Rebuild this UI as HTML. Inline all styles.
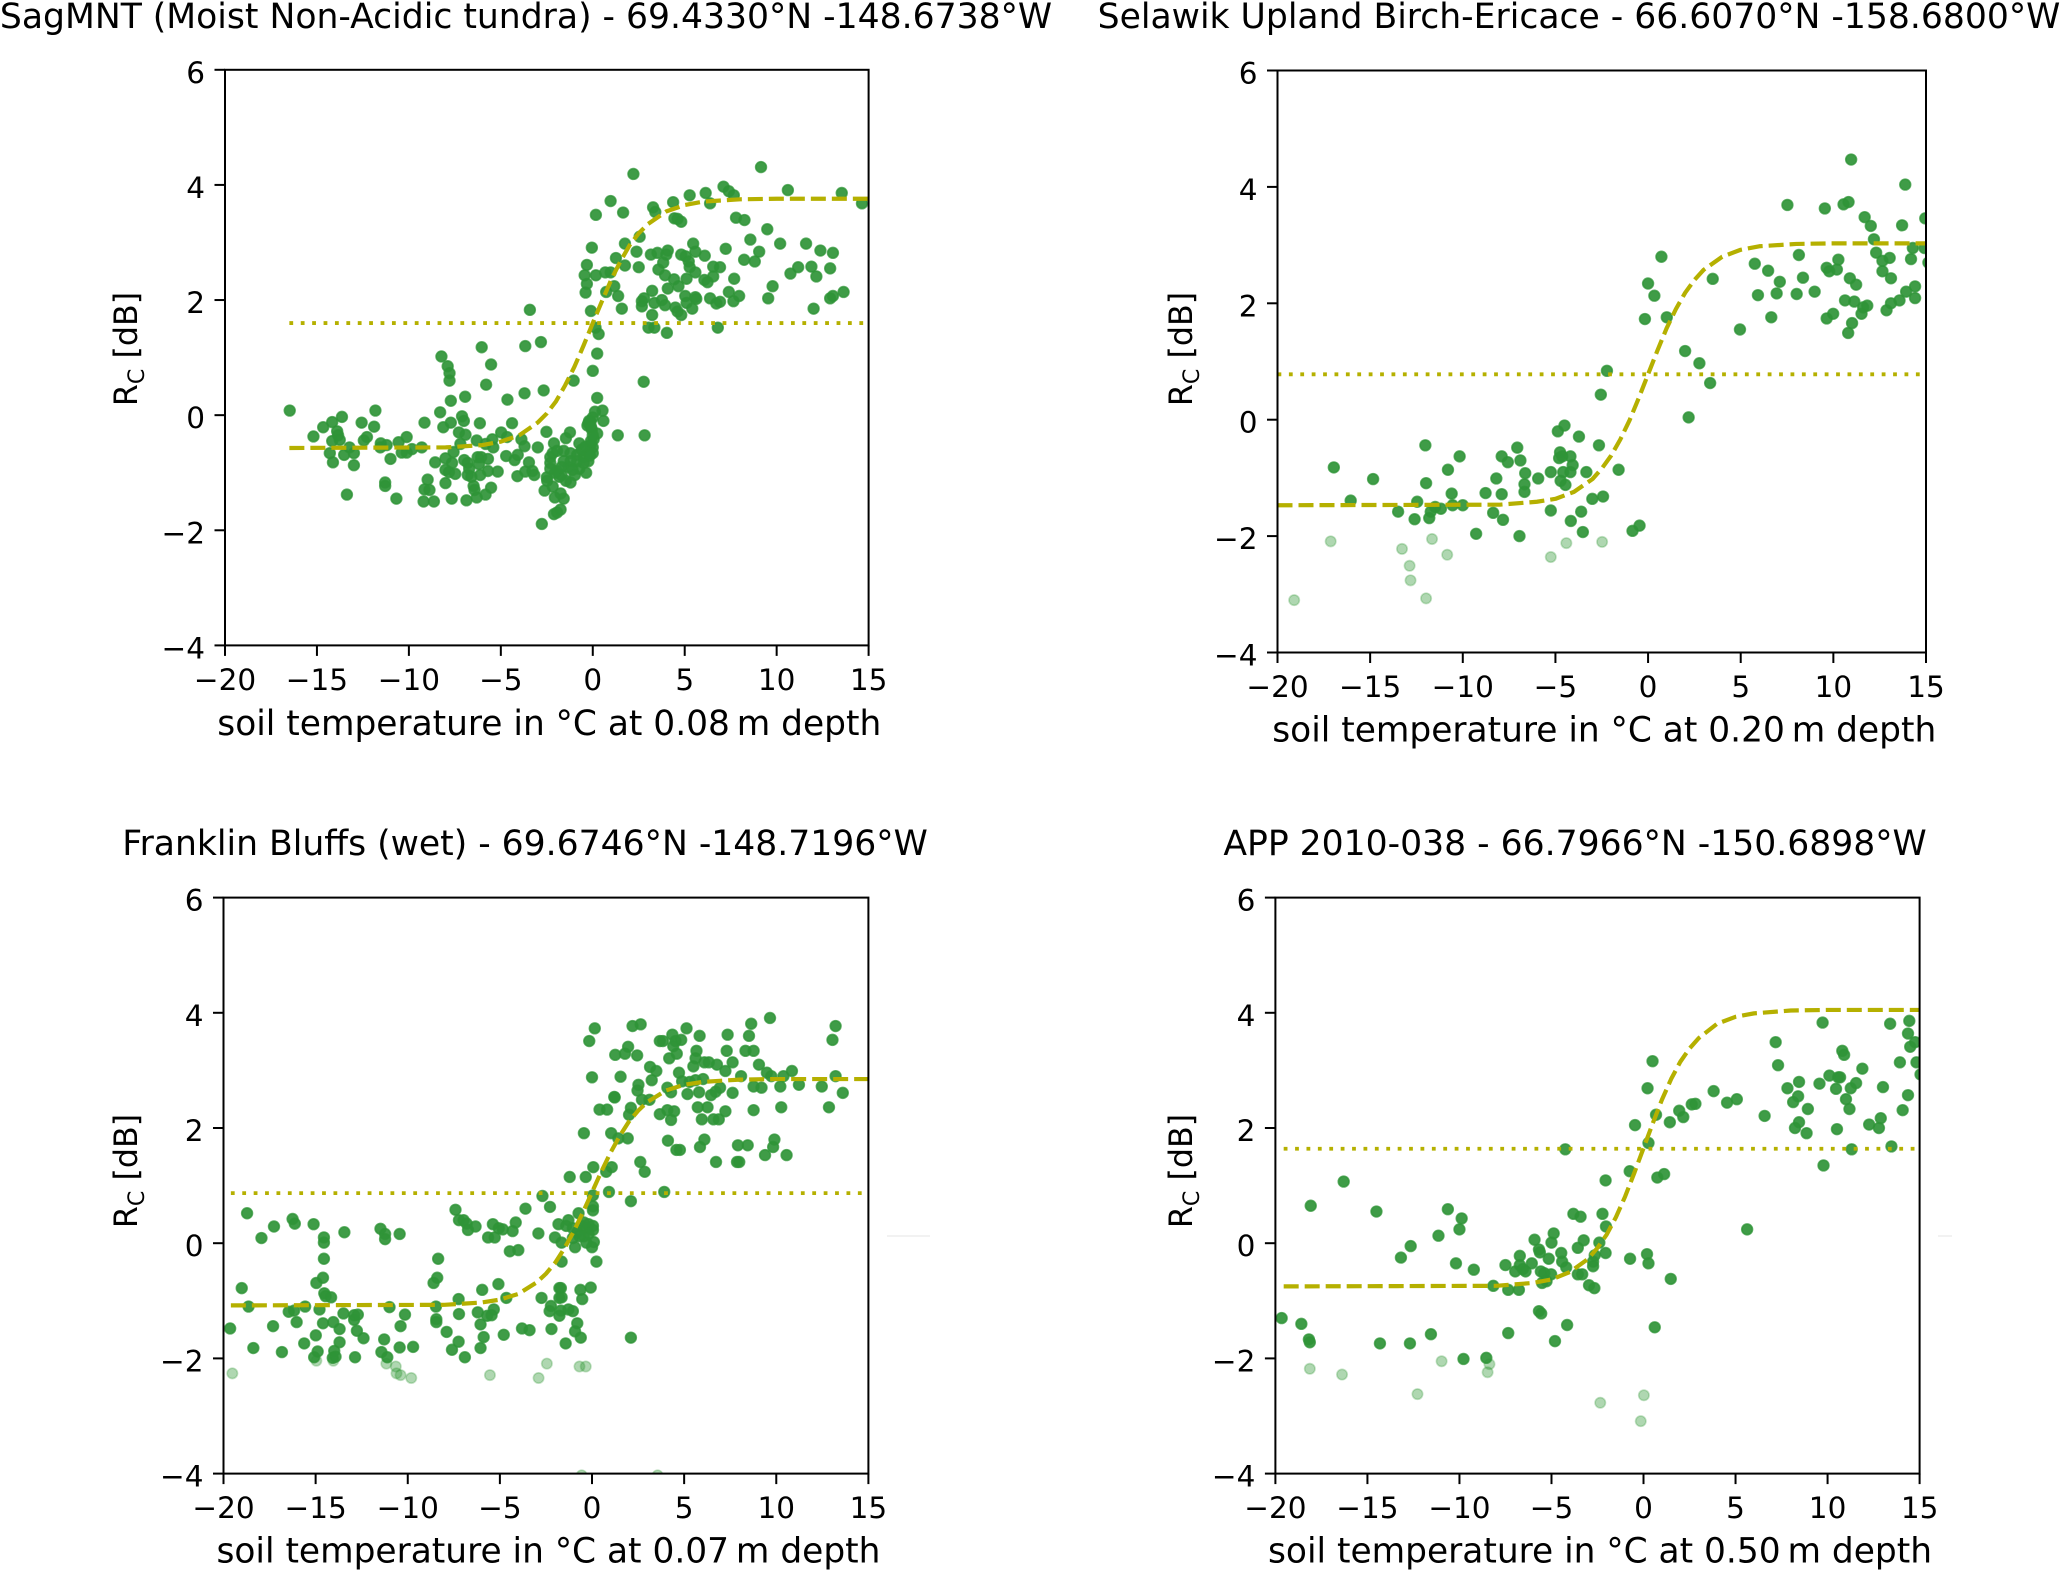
<!DOCTYPE html>
<html lang="en">
<head>
<meta charset="utf-8">
<title>Rc versus soil temperature</title>
<style>
html,body{margin:0;padding:0;background:#fff;width:2067px;height:1572px;overflow:hidden}
svg{display:block}
text{font-family:"DejaVu Sans","Liberation Sans",sans-serif;fill:#000}
</style>
</head>
<body>
<svg id="figure" xmlns="http://www.w3.org/2000/svg" width="2067" height="1572" viewBox="0 0 2067 1572">
<rect width="2067" height="1572" fill="#fff"/>
<line x1="887" x2="930" y1="1236" y2="1236" stroke="#eeeeee" stroke-width="1.5"/>
<line x1="1938" x2="1952" y1="1236" y2="1236" stroke="#eeeeee" stroke-width="1.5"/>
</svg>
<script>
const xTicks = [-20,-15,-10,-5,0,5,10,15];
const yTicks = [-4,-2,0,2,4,6];
const curveTemps = [-8,-6,-5,-4,-3,-2.5,-2,-1.5,-1,-.5,0,.5,1,1.5,2,2.5,3,4,5,6,8,10,15];

const sagTitle = "SagMNT (Moist Non-Acidic tundra) - 69.4330°N -148.6738°W";
const sagDepth = "soil temperature in °C at 0.08\u2009m depth";
const sagThreshold = 1.6;
const sagCurveStart = [-16.5,-0.57];
const sagCurve = [-.56,-.52,-.46,-.35,-.13,.03,.24,.52,.84,1.21,1.6,1.98,2.35,2.67,2.95,3.16,3.32,3.54,3.65,3.71,3.75,3.76,3.76];
const sagPoints = [
[-16.48,.08],[-15.19,-.37],[-14.66,-.21],[-14.17,-.12],[-13.64,-.03],[-13.9,-.28],[-13.85,-.35],[-14.17,-.45],[-13.76,-.43],[-14.3,-.66],[-14.13,-.82],[-13.52,-.69],[-13.23,-.56],[-12.99,-.66],[-12.99,-.87],[-13.37,-1.38],[-12.57,-.13],[-11.89,-.2],[-11.82,.08],[-12.28,-.38],[-12.45,-.44],[-11.53,-.49],[-11.21,-.52],[-11.55,-.56],[-11,-.76],[-10.56,-.47],[-10.12,-.38],[-10.39,-.65],[-10.12,-.65],[-9.83,-.59],[-9.3,-.56],[-11.29,-1.17],[-11.29,-1.23],[-10.68,-1.45],[-9.15,-.13],[-8.98,-1.12],[-9.15,-1.29],[-8.88,-1.3],[-9.2,-1.5],[-8.64,-1.5],
[-8.3,.05],[-8.13,-.21],[-7.72,-.13],[-7.72,.25],[-6.94,.32],[-8.23,1.02],[-7.89,.85],[-7.79,.73],[-7.79,.6],[-6.04,1.18],[-5.53,.88],[-5.8,.53],[-7.11,-.02],[-7.01,-.1],[-7.28,-.3],[-6.92,-.34],[-6.14,-.14],[-7.2,-.5],[-6.31,-.44],[-5.46,-.42],[-5.83,-.5],[-5.41,-.56],[-7.57,-.64],[-8.01,-.75],[-8.57,-.82],[-7.65,-.83],[-6.99,-.78],[-8.01,-.95],[-7.82,-.99],[-7.48,-1.02],[-6.8,-.83],[-6.72,-.93],[-6.8,-1.04],[-6.6,-1.07],[-6.26,-.73],[-6.07,-.73],[-5.7,-.76],[-6.19,-.85],[-5.7,-.97],[-6.12,-1.04],[-5.17,-.98],[-8.01,-1.18],[-6.48,-1.23],[-6.43,-1.3],[-5.53,-1.26],[-5.83,-1.38],[-6.31,-1.43],[-7.67,-1.45],[-6.87,-1.48],
[-4.64,.27],[-3.71,.38],[-2.67,.43],[-3.67,1.2],[-2.82,1.27],[-3.42,1.83],[-4.39,-.14],[-4.98,-.3],[-4.66,-.38],[-3.88,-.42],[-3.71,-.54],[-2.99,-.56],[-2.52,-.29],[-1.24,-.3],[-1.46,-.4],[-.73,-.49],[-4.71,-.71],[-4.25,-.78],[-4.08,-.69],[-3.47,-.82],[-4.1,-1.06],[-3.67,-.98],[-3.28,-.97],[-3.18,-1.04],[-2.5,-1.08],[-2.48,-1.14],[-2.62,-1.31],[-2.18,-1.24],[-2.06,-1.43],[-1.58,-1.45],[-1.75,-1.36],[-2.11,-1.72],[-1.94,-1.69],[-1.75,-1.64],[-2.77,-1.89],
[-2.11,-.49],[-2.31,-.73],[-2.18,-.66],[-2.31,-.83],[-1.94,-.62],[-1.58,-.62],[-1.21,-.66],[-.85,-.69],[-.49,-.73],[-.24,-.66],[0,-.56],[.05,-.42],[-.12,-.52],[-1.94,-.97],[-1.7,-1.04],[-1.46,-1.14],[-1.21,-1.17],[-1.33,-.9],[-.97,-1.04],[-.73,-.93],[-.36,-1],[-.24,-.8],[0,-.66],[-.85,-.8],[-1.21,-.8],[-.49,-.83],[-1.82,-1.07],[-2.06,-1],[-2.31,-.93],[-1.58,-.8],[-1.7,-.9],[-1.1,-.95],[-.6,-.6],[-.4,-.55],[-.1,-.45],[-.15,-.7],
[-.24,-.14],[-.12,-.11],[0,-.04],[.12,.06],[.53,.08],[.58,-.1],[.24,-.32],[-.29,-.18],[-.05,-.25],[0,-.35],[-.2,-.1],[-.1,-.2],[.24,.3],[0,.77],[.24,1.07],[.32,1.41],[.15,1.52],[-.1,1.81],[-1.04,.6],[1.36,-.35],[2.82,-.35],[2.77,.58],
[-.39,2.13],[-.32,2.28],[-.44,2.43],[-.32,2.61],[-.05,2.91],[.17,2.43],[.17,3.48],[.97,3.72],[1.65,3.52],[2.21,4.19],[2.55,3.1],[1.75,2.98],[2.38,2.84],[1.26,2.73],[1.75,2.6],[2.5,2.57],[.97,2.48],[.68,2.48],[1.17,2.24],[1.38,2.07],[.73,2.14],[1.58,1.85],
[3.28,3.61],[3.4,3.53],[4.37,3.7],[4.44,3.42],[4.61,3.41],[4.81,3.36],[5.27,3.82],[6.14,3.86],[6.38,3.68],[7.11,3.97],[7.4,3.89],[7.67,3.82],[7.79,3.43],[8.25,3.39],[9.15,4.31],[10.61,3.91],[13.54,3.86],[14.64,3.68],[9.49,3.23],[8.57,3.05],[10.19,2.98],[11.6,2.98],[12.38,2.86],[13.06,2.82],[9.05,2.84],[8.81,2.67],[8.23,2.7],[7.23,2.89],[6.09,2.77],[5.46,2.98],[5.58,2.84],
[3.16,2.79],[3.52,2.82],[4,2.79],[4.08,2.86],[3.83,2.65],[3.57,2.53],[3.93,2.43],[4.42,2.36],[4.66,2.24],[4.08,2.2],[3.23,2.16],[2.67,1.98],[2.79,2.03],[2.67,1.89],[3.35,1.95],[3.76,2],[3.93,1.91],[4.49,1.87],[4.61,1.8],[4.81,1.74],[3.23,1.74],[3.03,1.52],[3.35,1.52],[4.03,1.43],
[4.81,2.79],[5.05,2.76],[5.22,2.67],[5.27,2.57],[5.58,2.48],[5.1,2.37],[5.03,2.07],[5.1,1.95],[5.41,1.85],[5.58,2.05],[5.63,2.02],[6.38,2.03],[6.55,2.58],[6.92,2.57],[6.55,2.41],[6.07,2.35],[6.24,2.31],[7.69,2.37],[7.4,2.14],[7.96,2.07],[7.65,1.98],[6.92,1.97],[6.72,1.94],[6.8,1.52],
[10.75,2.46],[11.17,2.57],[11.89,2.58],[12.16,2.41],[12.91,2.55],[9.78,2.24],[9.54,2.03],[12.01,1.85],[12.91,2.03],[13.06,2.07],[13.64,2.14]
];

const selawikTitle = "Selawik Upland Birch-Ericace - 66.6070°N -158.6800°W";
const selawikDepth = "soil temperature in °C at 0.20\u2009m depth";
const selawikThreshold = 0.78;
const selawikCurveStart = [-20,-1.47];
const selawikCurve = [-1.46,-1.41,-1.36,-1.24,-1.02,-.84,-.62,-.34,-.01,.375,.78,1.185,1.57,1.9,2.18,2.4,2.575,2.8,2.92,2.98,3.02,3.03,3.03];
const selawikFaded = [[-19.1,-3.1],[-17.13,-2.09],[-13.28,-2.22],[-12.87,-2.51],[-12.82,-2.76],[-11.98,-3.07],[-11.66,-2.05],[-10.84,-2.32],[-5.25,-2.36],[-4.41,-2.12],[-2.48,-2.1]];
const selawikPoints = [
[-16.96,-.82],[-16.05,-1.39],[-14.84,-1.02],[-13.49,-1.58],[-12.6,-1.71],[-12.46,-1.41],[-12.02,-.44],[-11.98,-1.09],[-11.81,-1.69],[-11.73,-1.58],[-11.49,-1.5],[-11.18,-1.53],[-10.8,-.86],[-10.6,-1.27],[-10.55,-1.47],[-10.17,-.63],[-10,-1.47],[-9.28,-1.96],[-8.77,-1.26],[-8.36,-1.6],[-8.19,-1.01],[-7.9,-.63],[-7.9,-1.28],[-7.83,-1.72],[-7.57,-.73],[-7.06,-.48],[-6.89,-.7],[-6.63,-.92],[-6.67,-1.11],[-6.67,-1.24],[-6.94,-2],[-5.93,-1.01],[-5.25,-.9],[-5.25,-1.56],[-4.87,-.2],[-4.51,-.1],[-4.75,-.56],[-4.8,-.66],[-4.63,-.63],[-4.19,-.63],[-4.07,-.78],[-4.58,-.9],[-4.19,-.9],[-4.72,-1.05],[-4.46,-1.12],[-4.17,-1.74],[-3.73,-.29],[-3.33,-.9],[-3.61,-1.58],[-3.52,-1.93],[-3.01,-1.36],[-2.43,-1.32],[-2.65,-.44],[-2.55,.43],[-2.22,.84],[-1.59,-.86],[-.84,-1.91],[-.46,-1.82],[-.17,1.73],[0,2.34],[.34,2.13],[.72,2.8],[1.01,1.76],[2,1.18],[2.77,.97],[3.35,.63],[2.19,.04],[3.49,2.42],[4.96,1.55],[5.76,2.68],[5.93,2.14],[6.48,2.56],[6.65,1.76],[6.94,2.17],[7.11,2.37],[7.52,3.69],[8.02,2.16],[8.14,2.83],[8.36,2.44],[8.99,2.2],[9.54,3.63],[9.64,1.74],[9.64,2.61],[9.78,2.55],[9.99,1.82],[10.19,2.58],[10.27,2.75],[10.55,3.7],[10.82,3.74],[10.63,2.05],[10.8,1.49],[11.01,1.66],[10.89,2.43],[10.96,4.47],[11.13,2.03],[11.23,2.32],[11.52,1.82],[11.61,1.93],[11.83,1.96],[11.69,3.48],[12.02,3.33],[12.19,3.1],[12.31,2.87],[12.65,2.73],[12.65,2.55],[13.04,2.78],[13.11,2.43],[12.87,1.88],[13.11,2],[13.57,2.05],[13.71,3.34],[13.88,4.04],[13.93,2.2],[14.19,2.76],[14.29,2.95],[14.41,2.29],[14.41,2.09],[14.92,2.95],[14.96,3.46],[15.13,2.7]
];

const franklinTitle = "Franklin Bluffs (wet) - 69.6746°N -148.7196°W";
const franklinDepth = "soil temperature in °C at 0.07\u2009m depth";
const franklinThreshold = 0.87;
const franklinCurveStart = [-19.6,-1.08];
const franklinCurve = [-1.07,-1.03,-.98,-.88,-.68,-.53,-.34,-.09,.2,.53,.885,1.24,1.57,1.86,2.11,2.3,2.45,2.65,2.75,2.8,2.84,2.85,2.85];
const franklinFaded = [[-19.52,-2.26],[-14.96,-2.04],[-14.04,-2.04],[-11.16,-2.09],[-10.65,-2.14],[-10.61,-2.26],[-10.39,-2.29],[-9.81,-2.34],[-5.54,-2.29],[-2.9,-2.34],[-2.45,-2.09],[-.68,-2.14],[-.34,-2.14],[-.56,-4.03],[3.56,-4.03]];
const franklinPoints = [
[-19.64,-1.48],[-19.01,-.78],[-18.72,.52],[-18.64,-1.1],[-18.38,-1.82],[-17.94,.09],[-17.31,-1.44],[-17.26,.29],[-16.83,-1.89],[-16.46,-1.19],[-16.17,-1.17],[-16.25,.42],[-16.13,.34],[-16.03,-1.37],[-15.62,-1.74],[-15.57,-1.1],[-15.11,.33],[-15.08,-1.98],[-14.96,-.69],[-14.99,-1.6],[-14.89,-1.88],[-14.79,-1.15],[-14.6,-.6],[-14.6,-1.39],[-14.55,.1],[-14.55,.01],[-14.55,-.27],[-14.53,-.87],[-14.46,-.92],[-14.16,-.94],[-14.04,-1.37],[-13.99,-1.87],[-14.07,-1.99],[-13.92,-1.97],[-13.7,-1.49],[-13.7,-1.72],[-13.49,-1.22],[-13.44,.19],[-12.91,-1.25],[-12.91,-1.33],[-12.86,-1.98],[-12.71,-1.24],[-12.76,-1.52],[-12.4,-1.65],[-11.48,.25],[-11.23,.16],[-11.23,.07],[-11.28,-1.67],[-11.43,-1.89],[-11.11,-1.98],[-10.99,-1.11],[-10.44,.16],[-10.44,-1.81],[-10.39,-1.44],[-10.15,-1.24],[-9.71,-1.8],
[-8.35,-.27],[-8.4,-.6],[-8.6,-.69],[-8.47,-1.1],[-8.45,-1.32],[-8.45,-1.37],[-7.89,-1.54],[-7.6,-1.85],[-7.41,.58],[-7.22,.4],[-7.24,-.97],[-7.22,-1.23],[-7.24,-1.71],[-6.9,-1.98],[-6.97,.4],[-6.8,.34],[-6.73,.23],[-6.32,.29],[-6.2,-1.2],[-6.05,-1.41],[-5.88,-1.63],[-6.05,-1.82],[-5.96,-.81],[-5.69,-1.26],[-5.64,.1],[-5.28,.1],[-5.38,.33],[-5.06,.26],[-4.84,.24],[-5.08,-.71],[-5.33,-1.15],[-5.45,-1.25],[-4.79,-1.59],[-4.65,-.95],[-4.46,-.14],[-4,-.12],[-4.31,.21],[-4.14,.36],[-3.8,-1.48],[-3.39,-1.51],[-3.61,.6],[-2.91,.17],[-2.74,-.95],[-2.69,.82],[-2.28,.63],[-2.23,-1.09],[-2.3,-1.18],[-2.2,-1.49],[-2.01,.1],[-1.82,.33],[-1.65,.01],[-1.65,-.32],[-1.77,-.78],[-1.69,-.78],[-1.77,-.95],[-1.65,-.94],[-1.69,-1.17],[-1.77,-1.26],[-1.28,-1.15],[-1.04,-1.18],[-.8,-1.39],[-.92,-1.53],[-.61,-1.64],[-1.43,-1.74],[-.53,-.97],[-.63,-.81],[-.07,-.77],[.24,-.32],[-.92,-.07],[0,-.07],[.1,.02],[-.31,.01],[-1.28,.4],[-1.4,.3],[-1.21,1.15],[-.34,1.15],[.07,1.32],[-.73,.52],[.05,.83],[.05,.64],[.05,.57],
[-1.04,.26],[-.8,.19],[-.56,.3],[-.44,.36],[-.31,.26],[-.19,.33],[.05,.3],[.05,.23],[-.19,.16],[-.44,.12],[-.68,.12],[-1.04,.09],
[.92,.89],[1.07,1.32],[.77,1.24],[1.04,1.91],[1.43,1.82],[1.94,1.82],[2.11,.73],[2.11,-1.64],[2.62,1.41],[2.86,1.24],[3.92,.89],[-.44,1.91],[0,2.88],[-.15,3.51],[.15,3.73],[1.26,3.27],[1.96,3.41],[1.79,3.29],[2.45,3.26],[2.2,3.77],[2.64,3.8],[1.55,2.89],[1.21,2.54],[1.23,2.53],[.41,2.32],[.82,2.32],[2.11,2.35],[2.01,2.23],[2.47,2.65],[2.52,2.75],[2.71,2.49],[3.12,2.49],[3.15,3.06],[3.49,2.99],[3.24,2.83],[3.68,3.51],[3.85,3.51],[4.36,3.62],[5.13,3.73],[5.84,3.6],[4.53,3.51],[4.84,3.53],[4.41,3.42],[4.6,3.29],[4.19,3.21],[5.67,3.34],[5.62,3.21],[5.5,3.07],[6.1,3.14],[6.34,3.14],[6.78,3.1],[7.63,3.14],[7.31,3.34],[7.36,3.62],[8.52,3.6],[8.64,3.81],[9.66,3.91],[8.33,3.34],[8.77,3.34],[9.06,3.1],[9.49,2.96],[9.73,2.9],[8.09,2.9],[7.24,2.99],[4.72,2.96],[4.09,2.7],[4.29,2.62],[4.89,2.81],[5.3,2.8],[5.62,2.83],[6.03,2.85],[5.18,2.59],[5.81,2.62],[6.46,2.57],[6.71,2.63],[6.95,2.7],[7.63,2.61],[8.77,2.72],[9.2,2.7],[10.22,2.72],[10.39,2.9],[10.85,2.99],[11.23,2.75],[12.47,2.72],[13.22,2.9],[13.05,3.53],[13.22,3.77],[13.61,2.61],[12.86,2.36],[10.27,2.36],[8.77,2.31],[7.24,2.29],[6.27,2.36],[5.74,2.36],[4.09,2.31],[4.46,2.29],[3.68,2.24],[4.29,2.14],[5.96,2.15],[6.59,2.15],[6.88,2.15],[6.1,1.8],[5.86,1.67],[4.12,1.78],[4.58,1.62],[4.77,1.62],[6.73,1.41],[7.87,1.41],[7.99,1.41],[7.92,1.7],[8.45,1.7],[9.9,1.8],[9.83,1.67],[9.39,1.53],[10.56,1.53]
];

const appTitle = "APP 2010-038 - 66.7966°N -150.6898°W";
const appDepth = "soil temperature in °C at 0.50\u2009m depth";
const appThreshold = 1.64;
const appCurveStart = [-19.55,-.75];
const appCurve = [-.74,-.69,-.63,-.5,-.27,-.08,.15,.45,.81,1.22,1.65,2.08,2.49,2.85,3.15,3.38,3.56,3.81,3.93,3.99,4.04,4.05,4.05];
const appFaded = [[-18.13,-2.18],[-16.38,-2.28],[-12.28,-2.62],[-10.97,-2.05],[-8.37,-2.1],[-8.47,-2.24],[-2.35,-2.77],[.02,-2.64],[-.15,-3.09]];
const appPoints = [
[-19.66,-1.3],[-18.59,-1.4],[-18.18,-1.67],[-18.13,-1.72],[-18.08,.65],[-16.29,1.07],[-14.51,.55],[-14.32,-1.74],[-13.18,-.25],[-12.65,-.05],[-12.69,-1.74],[-11.55,-1.58],[-11.14,.13],[-10.63,.59],[-10.19,-.35],[-10,.24],[-9.88,.43],[-9.78,-2.01],[-9.22,-.46],[-8.54,-1.99],[-8.16,-.74],[-7.5,-.38],[-7.35,-.81],[-7.35,-1.56],[-6.97,-.49],[-6.77,-.81],[-6.72,-.22],[-6.72,-.38],[-6.55,-.45],[-6.41,-.49],[-6.07,-.35],[-5.92,.06],[-5.68,-.11],[-5.63,-.16],[-5.68,-1.18],[-5.56,-1.22],[-5.58,-.49],[-5.39,-.52],[-5.15,-.27],[-5,.01],[-4.88,.17],[-5.02,-.54],[-5.27,-.66],[-5.51,-.69],[-4.81,-1.7],[-4.47,-.17],[-4.42,-.32],[-4.2,-.42],[-4.15,-1.42],[-3.81,.51],[-3.42,.46],[-3.57,-.08],[-3.25,.05],[-3.57,-.54],[-3.33,-.54],[-2.96,-.73],[-2.67,-.78],[-2.74,-.32],[-2.74,-.4],[-2.65,-.21],[-2.4,.01],[-2.23,.51],[-2.06,1.09],[-2.04,.29],[-2.06,-.17],[-4.25,1.63],[-.73,-.27],[-.75,1.25],[-.46,2.05],[.27,1.74],[.19,-.19],[.27,-.35],[.22,2.69],[.49,3.16],[.61,-1.46],[.68,2.23],[.75,1.14],[1.12,1.2],[1.43,2.1],[1.48,-.62],[1.94,2.3],[2.16,2.19],[2.62,2.41],[2.82,2.42],[3.81,2.64],[4.54,2.44],[5.07,2.5],[5.63,.24],[6.58,2.21],[7.18,3.49],[7.31,3.09],[7.82,2.69],[8.13,2.45],[8.4,2.55],[8.45,2.8],[8.45,2.1],[8.23,2],[8.86,1.91],[8.93,2.33],[9.56,2.77],[9.73,3.83],[9.78,1.35],[10.1,2.91],[10.46,2.68],[10.51,1.98],[10.58,2.88],[10.68,2.88],[10.8,3.34],[10.9,3.27],[11,2.5],[11.19,2.33],[11.26,2.69],[11.31,1.63],[11.55,2.78],[11.89,3.03],[12.26,2.06],[12.79,2],[12.89,2.17],[13.01,2.71],[13.4,3.81],[13.47,1.68],[13.93,3.14],[14.08,2.31],[14.37,2.57],[14.37,3.64],[14.44,3.86],[14.49,3.41],[14.76,3.49],[14.83,3.14],[15.05,2.93]
];

const svg = document.getElementById('figure');
const NS = 'http://www.w3.org/2000/svg';
const TICK_FONT = 29.5;
const TITLE_FONT = 34.6;
const XLABEL_FONT = 34.4;
const YLABEL_FONT = 31.7;

function make(tag, attrs, parent) {
  const el = document.createElementNS(NS, tag);
  for (const k in attrs) el.setAttribute(k, attrs[k]);
  parent.appendChild(el);
  return el;
}

function drawPanel(id, box, data) {
  const scaleX = v => box.left + (v + 20) / 35 * (box.right - box.left);
  const scaleY = v => box.bottom - (v + 4) / 10 * (box.bottom - box.top);

  const g = make('g', {}, svg);
  
  

  const clip = make('clipPath', {id: id + '-clip'}, g);
  make('rect', {x: box.left, y: box.top, width: box.right - box.left, height: box.bottom - box.top}, clip);

  const marks = make('g', {'clip-path': 'url(#' + id + '-clip)'}, g);
  
  

  data.faded.forEach(function (p) {
    const c = make('circle', {cx: scaleX(p[0]), cy: scaleY(p[1]), r: 5.2, fill: '#379a3d', 'fill-opacity': 0.4, stroke: '#379a3d', 'stroke-opacity': 0.3, 'stroke-width': 1.6}, marks);
    
    
  });
  data.points.forEach(function (p) {
    const c = make('circle', {cx: scaleX(p[0]), cy: scaleY(p[1]), r: 5.4, fill: '#2f9437', 'fill-opacity': 0.92, stroke: '#2f9437', 'stroke-opacity': 0.75, 'stroke-width': 1.6}, marks);
    
    
  });

  const dotted = make('line', {x1: scaleX(data.curveStart[0]), x2: scaleX(15), y1: scaleY(data.threshold), y2: scaleY(data.threshold), stroke: '#b5b000', 'stroke-width': 3.8, 'stroke-dasharray': '3.8 7.6'}, marks);
  
  

  let d = 'M' + scaleX(data.curveStart[0]) + ' ' + scaleY(data.curveStart[1]);
  curveTemps.forEach(function (t, i) {
    d += 'L' + scaleX(t) + ' ' + scaleY(data.curve[i]);
  });
  const curve = make('path', {d: d, fill: 'none', stroke: '#b5b000', 'stroke-width': 4.2, 'stroke-dasharray': '15 6', 'stroke-linejoin': 'round'}, marks);
  
  

  const frame = make('rect', {x: box.left, y: box.top, width: box.right - box.left, height: box.bottom - box.top, fill: 'none', stroke: '#000', 'stroke-width': 2}, g);
  
  

  xTicks.forEach(function (v) {
    const x = scaleX(v);
    const tick = make('line', {x1: x, x2: x, y1: box.bottom, y2: box.bottom + 10.5, stroke: '#000', 'stroke-width': 2}, g);
    
    
    const label = make('text', {x: x, y: box.bottom + 44.5, 'text-anchor': 'middle', 'font-size': TICK_FONT}, g);
    label.textContent = String(v).replace('-', '\u2212');
    
    
  });
  yTicks.forEach(function (v) {
    const y = scaleY(v);
    const tick = make('line', {x1: box.left - 10.5, x2: box.left, y1: y, y2: y, stroke: '#000', 'stroke-width': 2}, g);
    
    
    const label = make('text', {x: box.left - 20, y: y + 13, 'text-anchor': 'end', 'font-size': TICK_FONT}, g);
    label.textContent = String(v).replace('-', '\u2212');
    
    
  });

  const title = make('text', {x: box.titleX, y: box.titleY, 'text-anchor': 'middle', 'font-size': TITLE_FONT}, g);
  title.textContent = data.title;
  
  

  const xLabel = make('text', {x: (box.left + box.right) / 2 + 2.5, y: box.xLabelY, 'text-anchor': 'middle', 'font-size': XLABEL_FONT}, g);
  xLabel.textContent = data.depth;
  
  

  const yLabel = make('text', {transform: 'translate(' + box.yLabelX + ' ' + box.yLabelY + ') rotate(-90)', 'text-anchor': 'middle', 'font-size': YLABEL_FONT}, g);
  
  
  const r = make('tspan', {}, yLabel);
  r.textContent = 'R';
  const sub = make('tspan', {dy: 7, 'font-size': YLABEL_FONT * 0.7}, yLabel);
  sub.textContent = 'C';
  const rest = make('tspan', {dy: -7}, yLabel);
  rest.textContent = ' [dB]';
}

drawPanel('sag', {left: 225, right: 868.6, top: 69.8, bottom: 645.4, titleX: 526, titleY: 28, xLabelY: 735, yLabelX: 137, yLabelY: 349},
  {title: sagTitle, depth: sagDepth, threshold: sagThreshold, curveStart: sagCurveStart, curve: sagCurve, points: sagPoints, faded: []});
drawPanel('selawik', {left: 1277.5, right: 1926, top: 70.5, bottom: 652.5, titleX: 1579, titleY: 28, xLabelY: 741.5, yLabelX: 1192, yLabelY: 349},
  {title: selawikTitle, depth: selawikDepth, threshold: selawikThreshold, curveStart: selawikCurveStart, curve: selawikCurve, points: selawikPoints, faded: selawikFaded});
drawPanel('franklin', {left: 223.5, right: 868.4, top: 897.6, bottom: 1473.6, titleX: 525, titleY: 855, xLabelY: 1562.5, yLabelX: 137, yLabelY: 1171},
  {title: franklinTitle, depth: franklinDepth, threshold: franklinThreshold, curveStart: franklinCurveStart, curve: franklinCurve, points: franklinPoints, faded: franklinFaded});
drawPanel('app', {left: 1275.4, right: 1919.6, top: 897.6, bottom: 1473.6, titleX: 1575, titleY: 855, xLabelY: 1562.5, yLabelX: 1192, yLabelY: 1171},
  {title: appTitle, depth: appDepth, threshold: appThreshold, curveStart: appCurveStart, curve: appCurve, points: appPoints, faded: appFaded});
</script>
</body>
</html>
